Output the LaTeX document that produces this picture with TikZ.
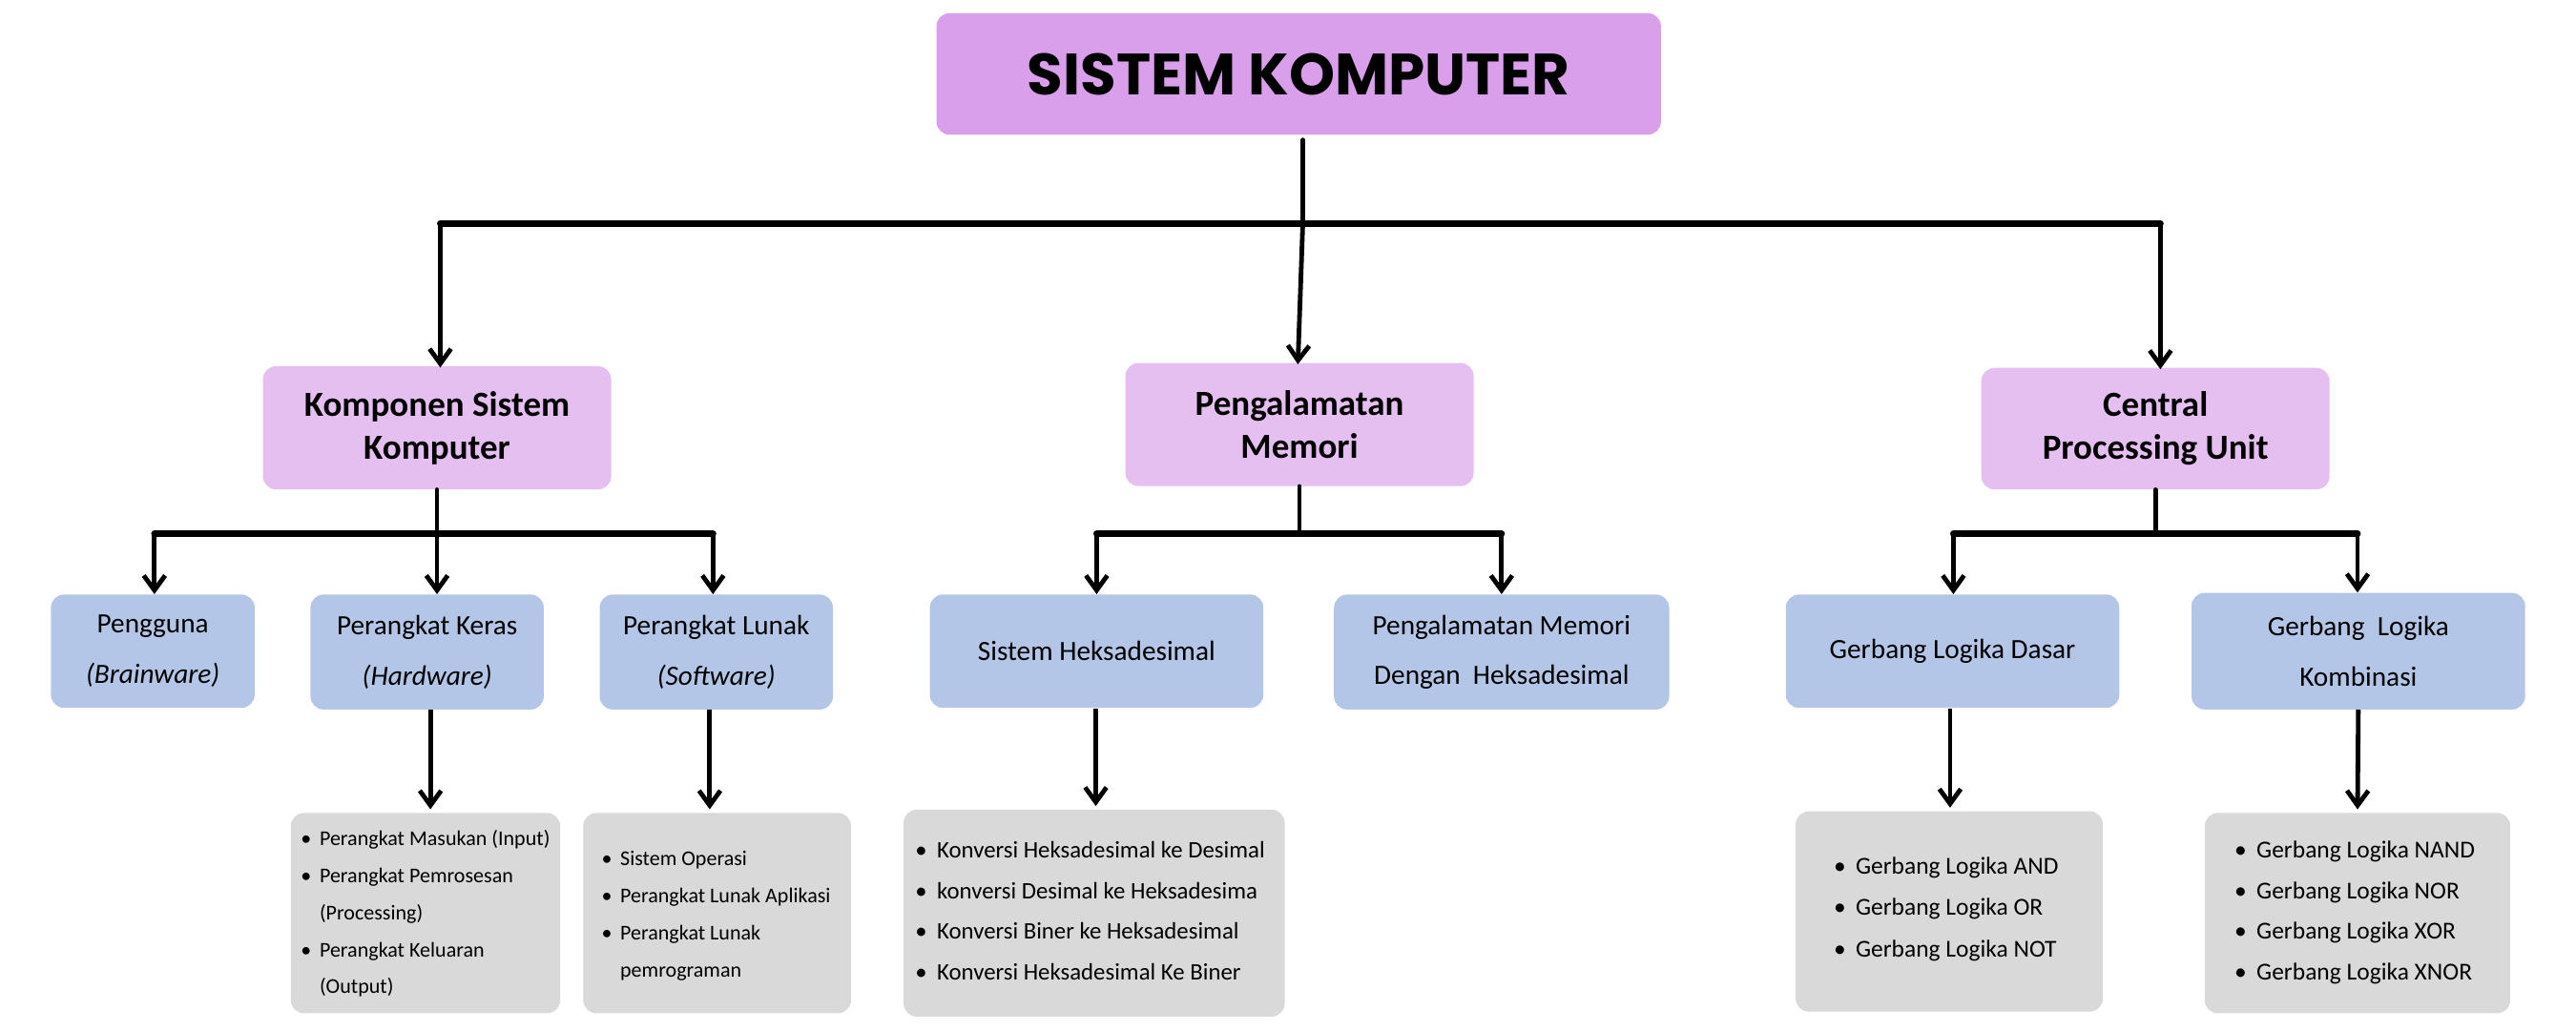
\documentclass[tikz,border=0pt]{standalone}
\usepackage{fontspec}
\setmainfont{Carlito}
\newfontfamily\titlefont{Poppins}
\usetikzlibrary{arrows.meta}
\definecolor{titlecol}{HTML}{DA9FEB}
\definecolor{lvtwo}{HTML}{E6BFF1}
\definecolor{lvthree}{HTML}{B4C6E7}
\definecolor{lvfour}{HTML}{D9D9D9}
\begin{document}
\begin{tikzpicture}[x=1pt,y=1pt,
  boxbase/.style={rectangle, rounded corners=8pt, inner sep=0pt, align=center, text=black},
  titlebox/.style={boxbase, fill=titlecol, font=\titlefont\bfseries\fontsize{35.5}{40}\selectfont},
  twobox/.style={boxbase, fill=lvtwo, font=\bfseries\fontsize{21.5}{26}\selectfont},
  threebox/.style={boxbase, fill=lvthree, font=\fontsize{17}{30.5}\selectfont},
  fourbox/.style={boxbase, fill=lvfour},
  listtext/.style={anchor=base west, inner sep=0pt, align=left},
  vline/.style={line width=2.8pt, line cap=round},
  hline/.style={line width=4pt, line cap=round},
  arr/.style={line width=2.8pt, -{Straight Barb[length=9pt,width=13pt,line width=2.8pt]}},
]
\useasboundingbox (0,0) rectangle (1568,-627.2);
% level 1
\node[titlebox, minimum width=441pt, minimum height=74pt] (title) at (790.5,-45) {SISTEM KOMPUTER};
% level 2
\node[twobox, minimum width=212pt, minimum height=75pt] (komp) at (266,-260.5) {Komponen Sistem\\Komputer};
\node[twobox, minimum width=212pt, minimum height=75pt] (peng) at (791,-258.5) {Pengalamatan\\Memori};
\node[twobox, minimum width=212pt, minimum height=74pt] (cpu) at (1312,-261) {Central\\Processing Unit};
% level 3
\node[threebox, minimum width=124pt, minimum height=69pt] (user) at (93,-396.5) {Pengguna\\\textit{(Brainware)}};
\node[threebox, minimum width=142pt, minimum height=70pt] (hard) at (260,-397) {Perangkat Keras\\\textit{(Hardware)}};
\node[threebox, minimum width=142pt, minimum height=70pt] (soft) at (436,-397) {Perangkat Lunak\\\textit{(Software)}};
\node[threebox, minimum width=203pt, minimum height=69pt] (heks) at (667.5,-396.5) {Sistem Heksadesimal};
\node[threebox, minimum width=204pt, minimum height=70pt] (memh) at (914,-397) {Pengalamatan Memori\\Dengan~ Heksadesimal};
\node[threebox, minimum width=203pt, minimum height=69pt] (gld) at (1188.5,-396.5) {Gerbang Logika Dasar};
\node[threebox, minimum width=203pt, minimum height=71pt] (glk) at (1435.5,-396.5) {Gerbang~ Logika\\Kombinasi};
% level 4 boxes
\node[fourbox, minimum width=164pt, minimum height=122pt] (hwbox) at (259,-556) {};
\node[fourbox, minimum width=163pt, minimum height=122pt] (swbox) at (436.5,-556) {};
\node[fourbox, minimum width=232pt, minimum height=126pt] (hxbox) at (666,-556) {};
\node[fourbox, minimum width=187pt, minimum height=122pt] (andbox) at (1186.5,-555) {};
\node[fourbox, minimum width=186pt, minimum height=122pt] (nandbox) at (1435,-556) {};
% level 4 texts
\node[listtext, font=\fontsize{12.8}{22.5}\selectfont] (hwlist) at (183,-515) {\begin{tabular}[t]{@{}l@{\hspace{5pt}}l@{}}
\textbullet & Perangkat Masukan (Input)\\
\textbullet & Perangkat Pemrosesan\\
 & (Processing)\\
\textbullet & Perangkat Keluaran\\
 & (Output)
\end{tabular}};
\node[listtext, font=\fontsize{12.8}{22.6}\selectfont] (swlist) at (366,-527) {\begin{tabular}[t]{@{}l@{\hspace{5pt}}l@{}}
\textbullet & Sistem Operasi\\
\textbullet & Perangkat Lunak Aplikasi\\
\textbullet & Perangkat Lunak\\
 & pemrograman
\end{tabular}};
\node[listtext, font=\fontsize{14.4}{24.7}\selectfont] (hxlist) at (557,-522.5) {\begin{tabular}[t]{@{}l@{\hspace{6pt}}l@{}}
\textbullet & Konversi Heksadesimal ke Desimal\\
\textbullet & konversi Desimal ke Heksadesima\\
\textbullet & Konversi Biner ke Heksadesimal\\
\textbullet & Konversi Heksadesimal Ke Biner
\end{tabular}};
\node[listtext, font=\fontsize{14.8}{25}\selectfont] (andlist) at (1116,-532.5) {\begin{tabular}[t]{@{}l@{\hspace{6pt}}l@{}}
\textbullet & Gerbang Logika AND\\
\textbullet & Gerbang Logika OR\\
\textbullet & Gerbang Logika NOT
\end{tabular}};
\node[listtext, font=\fontsize{14.8}{24.7}\selectfont] (nandlist) at (1360,-522.5) {\begin{tabular}[t]{@{}l@{\hspace{6pt}}l@{}}
\textbullet & Gerbang Logika NAND\\
\textbullet & Gerbang Logika NOR\\
\textbullet & Gerbang Logika XOR\\
\textbullet & Gerbang Logika XNOR
\end{tabular}};
% connectors level 1 -> 2
\coordinate (j1) at (793,-136);
\draw[vline] ([yshift=-3pt]title.south -| j1) -- (j1);
\draw[hline] ([xshift=2pt]komp.north |- j1) -- ([xshift=3pt]cpu.north |- j1);
\draw[arr] ([xshift=2pt]komp.north |- j1) -- ([xshift=2pt,yshift=-1pt]komp.north);
\draw[arr] (j1) -- ([xshift=-1pt,yshift=-1pt]peng.north);
\draw[arr] ([xshift=3pt]cpu.north |- j1) -- ([xshift=3pt,yshift=-1pt]cpu.north);
% komponen -> level 3
\coordinate (j2) at (266,-325);
\draw[vline] (komp.south) -- (j2);
\draw[hline] ([xshift=1pt]user.north |- j2) -- ([xshift=-2pt]soft.north |- j2);
\draw[arr] ([xshift=1pt]user.north |- j2) -- ([xshift=1pt]user.north);
\draw[arr] (j2) -- ([xshift=6pt]hard.north);
\draw[arr] ([xshift=-2pt]soft.north |- j2) -- ([xshift=-2pt]soft.north);
% pengalamatan -> level 3
\coordinate (j3) at (791,-325);
\draw[vline] (peng.south) -- (j3);
\draw[hline] (heks.north |- j3) -- (memh.north |- j3);
\draw[arr] (heks.north |- j3) -- (heks.north);
\draw[arr] (memh.north |- j3) -- (memh.north);
% cpu -> level 3
\coordinate (j4) at (1312,-325);
\draw[vline] (cpu.south) -- (j4);
\draw[hline] ([xshift=0.5pt]gld.north |- j4) -- ([xshift=-0.5pt]glk.north |- j4);
\draw[arr] ([xshift=0.5pt]gld.north |- j4) -- ([xshift=0.5pt]gld.north);
\draw[arr] ([xshift=-0.5pt]glk.north |- j4) -- ([xshift=-0.5pt]glk.north);
% level 3 -> 4
\draw[arr] ([xshift=2pt]hard.south) -- ([xshift=3pt,yshift=2pt]hwbox.north);
\draw[arr] ([xshift=-4pt]soft.south) -- ([xshift=-4.5pt,yshift=2pt]swbox.north);
\draw[arr] ([xshift=-0.5pt]heks.south) -- ([xshift=1pt,yshift=2pt]hxbox.north);
\draw[arr] ([xshift=-1.5pt]gld.south) -- ([xshift=0.5pt,yshift=2pt]andbox.north);
\draw[arr] (glk.south) -- ([yshift=2pt]nandbox.north);
\end{tikzpicture}
\end{document}
